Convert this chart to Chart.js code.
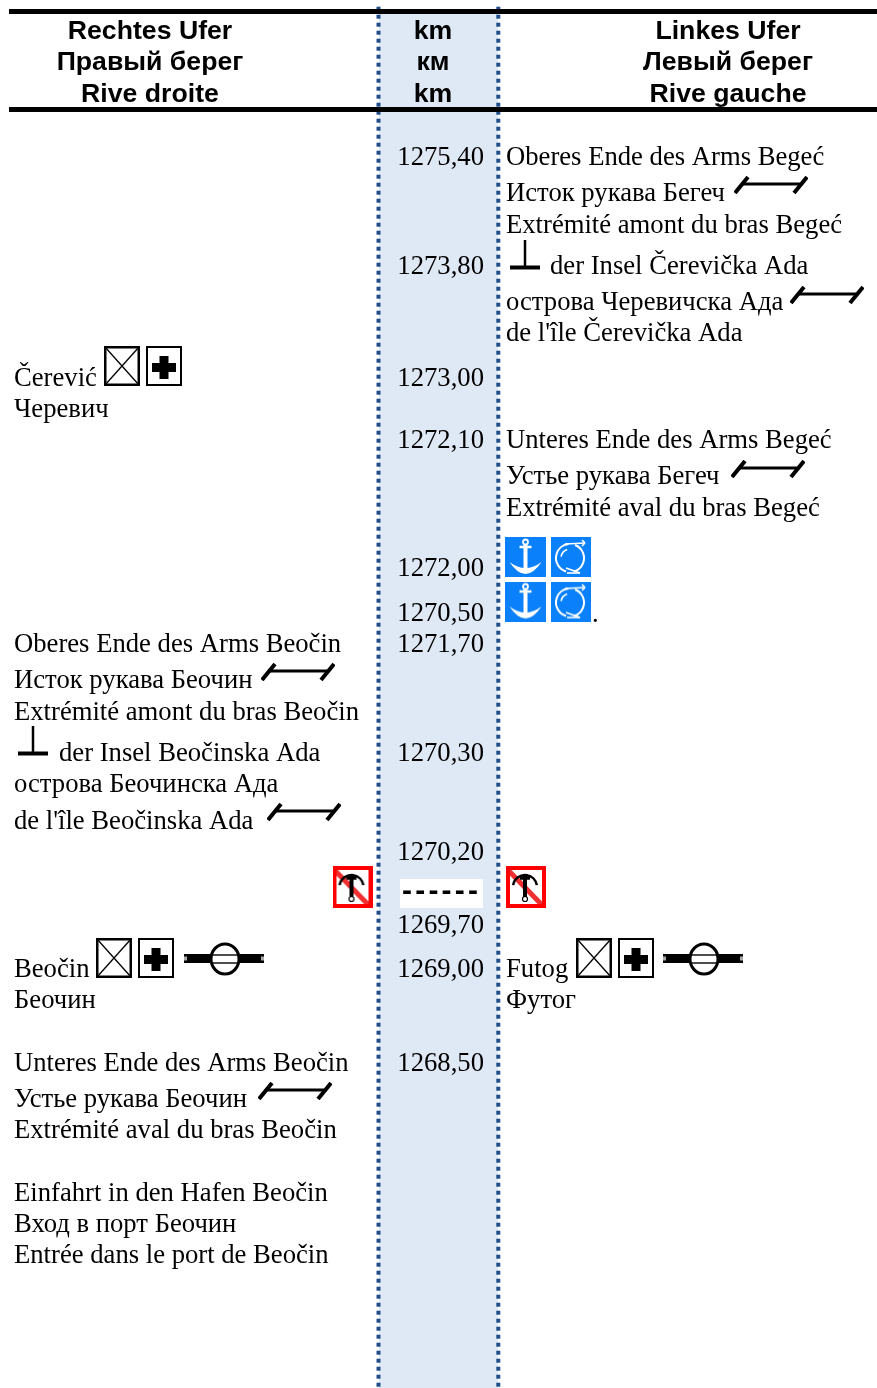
<!DOCTYPE html>
<html>
<head>
<meta charset="utf-8">
<title>Rechtes Ufer / Linkes Ufer</title>
<script src="https://cdn.jsdelivr.net/npm/chart.js@4"></script>
<style>
  html, body { margin: 0; padding: 0; background: #fff; }
  canvas { display: block; }
</style>
</head>
<body>
<canvas id="chart" width="877" height="1388"></canvas>
<script>
// --- Data ---
const headerRechts = ["Rechtes Ufer", "Правый берег", "Rive droite"];
const headerKm = ["km", "км", "km"];
const headerLinks = ["Linkes Ufer", "Левый берег", "Rive gauche"];
const headerRows = [39, 70, 102];

const kmLabels = ["1275,40", "1273,80", "1273,00", "1272,10", "1272,00", "1270,50", "1271,70",
    "1270,30", "1270,20", "1269,70", "1269,00", "1268,50"];
const kmRows = [165, 274, 386, 448, 576, 621, 652, 761, 860, 933, 977, 1071];
const kmGapLabel = ["------"];
const kmGapRow = [900];

const rechtsLabels = ["Čerević", "Черевич", "Oberes Ende des Arms Beočin", "Исток рукава Беочин",
    "Extrémité amont du bras Beočin", "der Insel Beočinska Ada", "острова Беочинска Ада",
    "de l'île Beočinska Ada", "Beočin", "Беочин", "Unteres Ende des Arms Beočin",
    "Устье рукава Беочин", "Extrémité aval du bras Beočin", "Einfahrt in den Hafen Beočin",
    "Вход в порт Беочин", "Entrée dans le port de Beočin"];
const rechtsRows = [386, 417, 652, 688, 720, 761, 792, 829, 977, 1008, 1071, 1107, 1138, 1201, 1232, 1263];
const rechtsCols = [14, 14, 14, 14, 14, 59, 14, 14, 14, 14, 14, 14, 14, 14, 14, 14];

const linksLabels = ["Oberes Ende des Arms Begeć", "Исток рукава Бегеч", "Extrémité amont du bras Begeć",
    "der Insel Čerevička Ada", "острова Черевичска Ада", "de l'île Čerevička Ada",
    "Unteres Ende des Arms Begeć", "Устье рукава Бегеч", "Extrémité aval du bras Begeć",
    ".", "Futog", "Футог"];
const linksRows = [165, 201, 233, 274, 310, 341, 448, 484, 516, 622, 977, 1008];
const linksCols = [506, 506, 506, 550, 506, 506, 506, 506, 506, 592, 506, 506];

// symbol positions on the page
const armPoints = [[771, 185], [827, 295], [768, 469], [298, 672], [304, 812], [295, 1091]];
const perpPoints = [[525, 255], [33, 741]];
const crossPoints = [[122, 366], [114, 958], [594, 958]];
const plusPoints = [[164, 366], [156, 958], [636, 958]];
const pipePoints = [[224, 959], [703, 959]];
const anchorPoints = [[525.5, 557], [525.5, 601.5]];
const turnPoints = [[571, 557], [571, 601.5]];
const noAnchorPoints = [[352.5, 887], [526, 887]];

// --- Symbols ---
function makeIcon(w, h, draw) {
    const c = document.createElement('canvas');
    c.width = w;
    c.height = h;
    const g = c.getContext('2d');
    draw(g, w, h);
    return c;
}

function seg(g, x1, y1, x2, y2, lw) {
    g.lineWidth = lw;
    g.beginPath();
    g.moveTo(x1, y1);
    g.lineTo(x2, y2);
    g.stroke();
}

const armIcon = makeIcon(74, 18, (g) => {
    g.strokeStyle = '#000';
    seg(g, 1, 17, 14, 1, 4);
    seg(g, 60, 17, 73, 1, 4);
    seg(g, 8, 8, 66, 8, 3);
});

const perpIcon = makeIcon(30, 30, (g) => {
    g.strokeStyle = '#000';
    seg(g, 15, 0, 15, 28, 2.5);
    seg(g, 0, 27.5, 30, 27.5, 4);
});

const crossIcon = makeIcon(36, 40, (g, w, h) => {
    g.fillStyle = '#fff';
    g.fillRect(0, 0, w, h);
    g.strokeStyle = '#000';
    g.lineWidth = 2.5;
    g.strokeRect(1.25, 1.25, w - 2.5, h - 2.5);
    seg(g, 1, 1, w - 1, h - 1, 1.3);
    seg(g, w - 1, 1, 1, h - 1, 1.3);
});

const plusIcon = makeIcon(36, 40, (g, w, h) => {
    g.fillStyle = '#fff';
    g.fillRect(0, 0, w, h);
    g.strokeStyle = '#000';
    g.lineWidth = 2;
    g.strokeRect(1, 1, w - 2, h - 2);
    g.fillStyle = '#000';
    g.fillRect(6, 17, 24, 9);
    g.fillRect(13.5, 10, 9, 23);
});

const pipeIcon = makeIcon(80, 34, (g) => {
    g.fillStyle = '#000';
    g.fillRect(0, 12, 80, 9);
    g.fillStyle = '#aaa';
    g.fillRect(0, 14.5, 3, 4);
    g.fillRect(77, 14.5, 3, 4);
    g.fillStyle = '#fff';
    g.strokeStyle = '#000';
    g.lineWidth = 3;
    g.beginPath();
    g.ellipse(41, 17, 14, 15, 0, 0, Math.PI * 2);
    g.fill();
    g.stroke();
    seg(g, 28, 13, 54, 13, 1.4);
    seg(g, 28, 21, 54, 21, 1.4);
});

const anchorIcon = makeIcon(41, 40, (g, w, h) => {
    const cx = w / 2;
    g.fillStyle = '#0a80fa';
    g.fillRect(0, 0, w, h);
    g.strokeStyle = '#fff';
    g.fillStyle = '#fff';
    g.beginPath();
    g.arc(cx, 5, 2.5, 0, Math.PI * 2);
    g.lineWidth = 1.8;
    g.stroke();
    seg(g, cx - 6, 10, cx + 6, 10, 2.5);
    seg(g, cx, 8, cx, 32, 4);
    g.beginPath();
    g.moveTo(cx - 16, 25);
    g.quadraticCurveTo(cx - 8, 37, cx, 37);
    g.quadraticCurveTo(cx + 8, 37, cx + 16, 25);
    g.quadraticCurveTo(cx + 8, 31, cx, 31);
    g.quadraticCurveTo(cx - 8, 31, cx - 16, 25);
    g.fill();
});

const turnIcon = makeIcon(40, 40, (g, w, h) => {
    g.fillStyle = '#0a80fa';
    g.fillRect(0, 0, w, h);
    g.strokeStyle = '#fff';
    g.beginPath();
    g.arc(19, 21, 14, -1.2, 1.3, false);
    g.lineWidth = 2;
    g.stroke();
    g.beginPath();
    g.arc(19, 21, 14, 1.85, 4.6, false);
    g.stroke();
    seg(g, 14, 7, 34, 6, 1.6);
    seg(g, 31, 3, 34, 6, 1.6);
    seg(g, 31, 9, 34, 6, 1.6);
    seg(g, 15, 31, 29, 36, 1.6);
    seg(g, 29, 36, 16, 36, 1.6);
    g.beginPath();
    g.arc(19, 21, 9, 3.3, 4.4, false);
    g.stroke();
});

const noAnchorIcon = makeIcon(40, 42, (g, w, h) => {
    g.fillStyle = '#fff';
    g.fillRect(0, 0, w, h);
    g.strokeStyle = '#f03030';
    seg(g, 2, 4, w - 4, h - 3, 5);
    g.strokeStyle = '#f00';
    g.lineWidth = 4;
    g.strokeRect(2, 2, w - 4, h - 4);
    g.strokeStyle = '#000';
    const cx = w / 2 - 1;
    seg(g, cx, 9, cx, 31, 4);
    seg(g, cx - 5, 12, cx + 5, 12, 3.5);
    g.lineWidth = 2.5;
    g.beginPath();
    g.arc(cx, 21, 12, Math.PI * 1.05, Math.PI * 1.95);
    g.stroke();
    g.lineWidth = 1.2;
    g.beginPath();
    g.arc(cx, 33, 2.5, 0, Math.PI * 2);
    g.stroke();
});

// --- Datasets ---
function toPoints(list) {
    return list.map(([x, y]) => ({ x, y }));
}

function lineSet(points, color, width, dash, order) {
    return {
        data: toPoints(points),
        showLine: true,
        borderColor: color,
        borderWidth: width,
        borderDash: dash,
        borderCapStyle: 'butt',
        pointRadius: 0,
        order
    };
}

function iconSet(points, icon) {
    return { data: toPoints(points), pointStyle: icon, pointRadius: 10, showLine: false, order: 2 };
}

function textSet(labels, rows, cols, font, align, spacing) {
    return {
        data: rows.map((y, i) => ({ x: cols[i], y })),
        textLabels: labels,
        textFont: font,
        textAlign: align,
        textSpacing: spacing || '0px',
        showLine: false,
        pointRadius: 0,
        order: 1
    };
}

const SERIF = '26.67px "Liberation Serif"';
const HEAD = 'bold 26.67px "Liberation Sans"';

// draws textLabels of a dataset at its own points
const textPlugin = {
    id: 'rowText',
    afterDatasetsDraw(chart) {
        const ctx = chart.ctx;
        ctx.save();
        ctx.fillStyle = '#000';
        ctx.textBaseline = 'alphabetic';
        chart.data.datasets.forEach((ds, i) => {
            if (!ds.textLabels) return;
            ctx.font = ds.textFont;
            ctx.textAlign = ds.textAlign;
            ctx.letterSpacing = ds.textSpacing;
            chart.getDatasetMeta(i).data.forEach((pt, j) => {
                ctx.fillText(ds.textLabels[j], pt.x, pt.y);
            });
        });
        ctx.restore();
    }
};

// --- Start ---
new Chart(document.getElementById('chart'), {
    type: 'scatter',
    data: {
        datasets: [
            lineSet([[438.5, 14], [438.5, 1388]], '#dfe8f5', 119, [], 9),
            lineSet([[378.5, 6.7], [378.5, 1388]], '#1f4e8c', 4, [4, 4], 8),
            lineSet([[498.3, 6.7], [498.3, 1388]], '#1f4e8c', 4, [4, 4], 8),
            lineSet([[9, 11.5], [877, 11.5]], '#000', 5, [], 7),
            lineSet([[9, 109.5], [877, 109.5]], '#000', 5, [], 7),
            lineSet([[400, 893.5], [483, 893.5]], '#fff', 29, [], 6),
            iconSet(armPoints, armIcon),
            iconSet(perpPoints, perpIcon),
            iconSet(crossPoints, crossIcon),
            iconSet(plusPoints, plusIcon),
            iconSet(pipePoints, pipeIcon),
            iconSet(anchorPoints, anchorIcon),
            iconSet(turnPoints, turnIcon),
            iconSet(noAnchorPoints, noAnchorIcon),
            textSet(headerRechts, headerRows, [150, 150, 150], HEAD, 'center'),
            textSet(headerKm, headerRows, [433, 433, 433], HEAD, 'center'),
            textSet(headerLinks, headerRows, [728, 728, 728], HEAD, 'center'),
            textSet(kmLabels, kmRows, kmRows.map(() => 484), SERIF, 'right'),
            textSet(kmGapLabel, kmGapRow, [402], 'bold 30px "Liberation Sans"', 'left', '3.2px'),
            textSet(rechtsLabels, rechtsRows, rechtsCols, SERIF, 'left'),
            textSet(linksLabels, linksRows, linksCols, SERIF, 'left')
        ]
    },
    options: {
        responsive: false,
        animation: false,
        layout: { padding: 0, autoPadding: false },
        plugins: { legend: { display: false }, tooltip: { enabled: false } },
        scales: {
            x: { type: 'linear', min: 0, max: 877, display: false },
            y: { type: 'linear', min: 0, max: 1388, reverse: true, display: false }
        }
    },
    plugins: [textPlugin]
});
</script>
</body>
</html>
